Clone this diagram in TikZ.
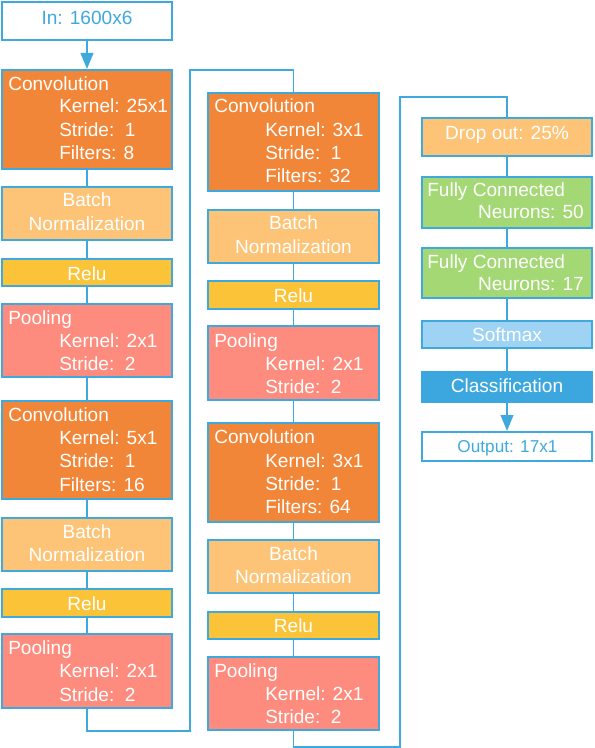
\documentclass[tikz,border=0pt]{standalone}
\usepackage{fontspec}
\setmainfont{Liberation Sans}
\usetikzlibrary{fit,arrows.meta}
\definecolor{bl}{HTML}{3FA9DE}
\definecolor{convc}{HTML}{F28638}
\definecolor{batchc}{HTML}{FDC477}
\definecolor{reluc}{HTML}{FBC338}
\definecolor{poolc}{HTML}{FE8C7E}
\definecolor{fcc}{HTML}{A3D874}
\definecolor{softc}{HTML}{9ED3F3}
\definecolor{classc}{HTML}{3BA7DE}
\newcommand\bx[6]{\node[box,#6,fit={(#2,#3) (#4,#5)}] (#1) {};}
\newcommand\tl[4]{\node[txt,anchor=base west] (#1) at (#2,#3) {#4};}
\newcommand\tc[4]{\node[txt,anchor=base] (#1) at (#2,#3) {#4};}
\begin{document}
\begin{tikzpicture}[x=0.75pt,y=-0.75pt,
  box/.style={draw=bl,line width=1.5pt,inner sep=0pt},
  conv/.style={fill=convc},
  batch/.style={fill=batchc},
  relu/.style={fill=reluc},
  pool/.style={fill=poolc},
  fc/.style={fill=fcc},
  soft/.style={fill=softc},
  cls/.style={fill=classc,draw=classc},
  white box/.style={fill=white},
  txt/.style={text=white,font=\fontsize{14.3}{17}\selectfont,inner sep=0pt},
  link/.style={draw=bl,line width=1.4pt},
  arr/.style={link,-{Triangle[width=9.5pt,length=12pt]}}]
\useasboundingbox (0,0) rectangle (594,748);

% ---------- column 1 ----------
\bx{in}{2}{2}{172}{40}{white box}
\bx{conv1}{2}{70}{172}{169}{conv}
\bx{bn1}{2}{187}{172}{240}{batch}
\bx{relu1}{2}{259}{172}{286}{relu}
\bx{pool1}{2}{304}{172}{377}{pool}
\bx{conv2}{2}{401}{172}{499}{conv}
\bx{bn2}{2}{518}{172}{571}{batch}
\bx{relu2}{2}{589}{172}{617}{relu}
\bx{pool2}{2}{634}{172}{708}{pool}

% ---------- column 2 ----------
\bx{conv3}{208}{93}{379}{191}{conv}
\bx{bn3}{208}{210}{379}{263}{batch}
\bx{relu3}{208}{281}{379}{309}{relu}
\bx{pool3}{208}{326}{379}{400}{pool}
\bx{conv4}{208}{423}{379}{522}{conv}
\bx{bn4}{208}{540}{379}{593}{batch}
\bx{relu4}{208}{612}{379}{639}{relu}
\bx{pool4}{208}{657}{379}{730}{pool}

% ---------- column 3 ----------
\bx{drop}{422}{118}{592}{156}{batch}
\bx{fc1}{422}{177}{592}{228}{fc}
\bx{fc2}{422}{248}{592}{298}{fc}
\bx{soft}{422}{321}{592}{348}{soft}
\bx{cls}{422}{372}{592}{402}{cls}
\bx{out}{422}{432}{592}{461}{white box}

% ---------- connectors ----------
\draw[arr] (in) -- (conv1);
\draw[link] (conv1) -- (bn1);
\draw[link] (bn1) -- (relu1);
\draw[link] (relu1) -- (pool1);
\draw[link] (pool1) -- (conv2);
\draw[link] (conv2) -- (bn2);
\draw[link] (bn2) -- (relu2);
\draw[link] (relu2) -- (pool2);
\coordinate (l1) at (190,731);
\coordinate (l2) at (190,70);
\draw[link] (pool2.south) |- (l1) -- (l2) -| (conv3.north);
\draw[link] (conv3) -- (bn3);
\draw[link] (bn3) -- (relu3);
\draw[link] (relu3) -- (pool3);
\draw[link] (pool3) -- (conv4);
\draw[link] (conv4) -- (bn4);
\draw[link] (bn4) -- (relu4);
\draw[link] (relu4) -- (pool4);
\coordinate (l3) at (400,747);
\coordinate (l4) at (400,97);
\draw[link] (pool4.south) |- (l3) -- (l4) -| (drop.north);
\draw[link] (drop) -- (fc1);
\draw[link] (fc1) -- (fc2);
\draw[link] (fc2) -- (soft);
\draw[link] (soft) -- (cls);
\draw[arr] (cls) -- (out);

% ---------- texts ----------
\node[txt,text=bl,anchor=base] (tin) at (87,25) {In: 1600x6};

\tl{c1a}{8}{91}{Convolution}
\tl{c1b}{59}{113}{Kernel: 25x1}
\tl{c1c}{59}{137}{Stride:~~1}
\tl{c1d}{59}{160}{Filters: 8}
\tc{b1a}{87}{207}{Batch}
\tc{b1b}{87}{231}{Normalization}
\tc{r1}{87}{280}{Relu}
\tl{p1a}{8}{324}{Pooling}
\tl{p1b}{59}{347}{Kernel: 2x1}
\tl{p1c}{59}{370}{Stride:~~2}
\tl{c2a}{8}{421}{Convolution}
\tl{c2b}{59}{444}{Kernel: 5x1}
\tl{c2c}{59}{467}{Stride:~~1}
\tl{c2d}{59}{491}{Filters: 16}
\tc{b2a}{87}{538}{Batch}
\tc{b2b}{87}{561}{Normalization}
\tc{r2}{87}{610}{Relu}
\tl{p2a}{8}{654}{Pooling}
\tl{p2b}{59}{677}{Kernel: 2x1}
\tl{p2c}{59}{701}{Stride:~~2}

\tl{c3a}{214}{113}{Convolution}
\tl{c3b}{265}{137}{Kernel: 3x1}
\tl{c3c}{265}{160}{Stride:~~1}
\tl{c3d}{265}{183}{Filters: 32}
\tc{b3a}{293.5}{230}{Batch}
\tc{b3b}{293.5}{253}{Normalization}
\tc{r3}{293.5}{302}{Relu}
\tl{p3a}{214}{347}{Pooling}
\tl{p3b}{265}{370}{Kernel: 2x1}
\tl{p3c}{265}{393}{Stride:~~2}
\tl{c4a}{214}{443}{Convolution}
\tl{c4b}{265}{467}{Kernel: 3x1}
\tl{c4c}{265}{490}{Stride:~~1}
\tl{c4d}{265}{513}{Filters: 64}
\tc{b4a}{293.5}{560}{Batch}
\tc{b4b}{293.5}{583}{Normalization}
\tc{r4}{293.5}{632}{Relu}
\tl{p4a}{214}{677}{Pooling}
\tl{p4b}{265}{700}{Kernel: 2x1}
\tl{p4c}{265}{723}{Stride:~~2}

\tc{dr}{507}{140}{Drop out: 25\%}
\tl{f1a}{427}{197}{Fully Connected}
\node[txt,anchor=base east] (f1b) at (584,219) {Neurons: 50};
\tl{f2a}{427}{268}{Fully Connected}
\node[txt,anchor=base east] (f2b) at (584,290) {Neurons: 17};
\tc{sm}{507}{341}{Softmax}
\tc{cl}{507}{392}{Classification}
\node[txt,text=bl,anchor=base,font=\fontsize{12.9}{15}\selectfont] (tout) at (507.5,452) {Output: 17x1};
\end{tikzpicture}
\end{document}
